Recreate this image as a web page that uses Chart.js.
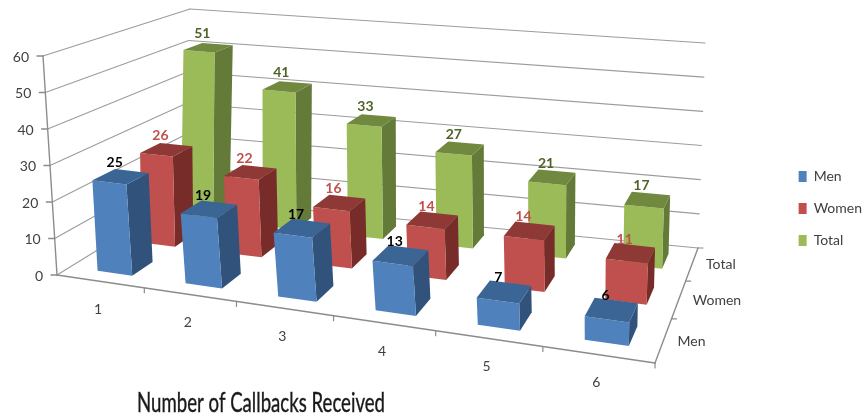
<!DOCTYPE html>
<html>
<head>
<meta charset="utf-8">
<script src="https://cdn.jsdelivr.net/npm/chart.js@4"></script>
<style>
  html, body { margin: 0; background: #fff; }
  #wrap { width: 863px; height: 419px; }
</style>
</head>
<body>
<div id="wrap"><canvas id="callbacks" width="863" height="419"></canvas></div>
<script>
const categories = ['1', '2', '3', '4', '5', '6'];
const seriesNames = ['Men', 'Women', 'Total'];
const men = [25, 19, 17, 13, 7, 6];
const women = [26, 22, 16, 14, 14, 11];
const total = [51, 41, 33, 27, 21, 17];
const yTicks = [0, 10, 20, 30, 40, 50, 60];
const xTitle = 'Number of Callbacks Received';

// camera: where the corners of the plot box land on the canvas
const FLOOR = [[57, 275], [655, 363], [698, 248], [182, 198]];
const CEILING = [[43, 56], [662, 123], [705, 43], [190, 9]];
const U_WARP = 0.14; // the original spaces categories more evenly than true perspective
const BAR_W = 0.4 / categories.length;
const BAR_D = 0.46 / seriesNames.length;
const BAR_SHIFT = 0.004;

const FONT = 'Lato, "Open Sans", sans-serif';
const GRID = '#9c9c9c';
const AXIS = '#8c8c8c';
const TEXT = '#404040';

function makeHomography(q) {
    const [[x0, y0], [x1, y1], [x2, y2], [x3, y3]] = q;
    const dx1 = x1 - x2, dx2 = x3 - x2, sx = x0 - x1 + x2 - x3;
    const dy1 = y1 - y2, dy2 = y3 - y2, sy = y0 - y1 + y2 - y3;
    const den = dx1 * dy2 - dx2 * dy1;
    const g = (sx * dy2 - dx2 * sy) / den;
    const h = (dx1 * sy - sx * dy1) / den;
    const a = x1 - x0 + g * x1, b = x3 - x0 + h * x3;
    const d = y1 - y0 + g * y1, e = y3 - y0 + h * y3;
    return (u, v) => {
        const w = g * u + h * v + 1;
        return [(a * u + b * v + x0) / w, (d * u + e * v + y0) / w];
    };
}
const floorAt = makeHomography(FLOOR);
const ceilingAt = makeHomography(CEILING);

// u along the categories, v into the depth, t up the value axis, all 0..1
function project(u, v, t) {
    const uu = u + U_WARP * u * (1 - u);
    const f = floorAt(uu, v), c = ceilingAt(uu, v);
    return [f[0] + (c[0] - f[0]) * t, f[1] + (c[1] - f[1]) * t];
}

function fracX(scale, value) {
    return (scale.getPixelForValue(value) - scale.left) / scale.width;
}
function fracY(scale, value) {
    return (scale.bottom - scale.getPixelForValue(value)) / scale.height;
}

function face(ctx, pts, color) {
    ctx.beginPath();
    pts.forEach((p, i) => i ? ctx.lineTo(p[0], p[1]) : ctx.moveTo(p[0], p[1]));
    ctx.closePath();
    ctx.fillStyle = color;
    ctx.fill();
}

function line(ctx, a, b, color, width) {
    ctx.beginPath();
    ctx.moveTo(a[0], a[1]);
    ctx.lineTo(b[0], b[1]);
    ctx.strokeStyle = color;
    ctx.lineWidth = width;
    ctx.stroke();
}

// bar controller that draws each bar as a box in the projected plot
class Bar3dController extends Chart.BarController {
    draw() {
        const ctx = this.chart.ctx;
        const meta = this._cachedMeta;
        const ds = this.getDataset();
        const zScale = this.chart.scales.z;
        const v = fracX(zScale, meta.index);
        const n = meta.data.length;
        for (let i = 0; i < n; i++) {
            const u = fracX(meta.iScale, i) + BAR_SHIFT;
            const t = fracY(meta.vScale, this.getParsed(i).y);
            const u0 = u - BAR_W / 2, u1 = u + BAR_W / 2;
            const v0 = v - BAR_D / 2, v1 = v + BAR_D / 2;
            const fl = project(u0, v0, 0), fr = project(u1, v0, 0), br = project(u1, v1, 0);
            const tl = project(u0, v0, t), tr = project(u1, v0, t), tbr = project(u1, v1, t), tbl = project(u0, v1, t);
            face(ctx, [fr, br, tbr, tr], ds.sideColor);
            face(ctx, [fl, fr, tr, tl], ds.backgroundColor);
            face(ctx, [tl, tr, tbr, tbl], ds.topColor);
        }
    }
}
Bar3dController.id = 'bar3d';
Bar3dController.defaults = Chart.BarController.defaults;
Bar3dController.overrides = Chart.BarController.overrides;
Chart.register(Bar3dController);

const boxPlugin = {
    id: 'box3d',
    afterLayout(chart) {
        // legend sits tight against the right edge in the original
        chart.legend.left += 9;
        chart.legend.right += 9;
        chart.legend.top -= 1;
        chart.legend.bottom -= 1;
    },
    beforeDatasetsDraw(chart) {
        const { ctx, scales } = chart;
        ctx.save();
        ctx.lineCap = 'round';
        yTicks.forEach(val => {
            const t = fracY(scales.y, val);
            line(ctx, project(0, 0, t), project(0, 1, t), GRID, 1.1);
            line(ctx, project(0, 1, t), project(1, 1, t), GRID, 1.1);
            const p = project(0, 0, t);
            line(ctx, p, [p[0] - 6, p[1]], AXIS, 1.4);
            ctx.font = '14px ' + FONT;
            ctx.fillStyle = TEXT;
            ctx.textAlign = 'right';
            ctx.textBaseline = 'middle';
            ctx.fillText(String(val), p[0] - 14, p[1] + 1);
        });
        line(ctx, project(0, 0, 0), project(0, 0, 1), AXIS, 1.4);
        line(ctx, project(0, 0, 0), project(1, 0, 0), AXIS, 1.6);
        line(ctx, project(1, 0, 0), project(1, 1, 0), AXIS, 1.4);

        // tick marks and labels along the floor edges
        ctx.font = '14px ' + FONT;
        ctx.fillStyle = TEXT;
        ctx.textAlign = 'center';
        categories.forEach((c, i) => {
            const mid = project(fracX(scales.x, i), 0, 0);
            ctx.fillText(c, mid[0] - 2, mid[1] + 28);
            const edge = project((i + 1) / categories.length, 0, 0);
            line(ctx, edge, [edge[0], edge[1] + 5], AXIS, 1.2);
        });
        ctx.textAlign = 'left';
        seriesNames.forEach((s, i) => {
            const mid = project(1, fracX(scales.z, i), 0);
            ctx.fillText(s, mid[0] + 14, mid[1] + 1);
            const edge = project(1, (i + 1) / seriesNames.length, 0);
            line(ctx, edge, [edge[0] + 5, edge[1]], AXIS, 1.2);
        });
        ctx.restore();
    },
    afterDatasetsDraw(chart) {
        const { ctx, scales } = chart;
        ctx.save();
        ctx.font = 'bold 14px ' + FONT;
        ctx.textAlign = 'center';
        ctx.textBaseline = 'middle';
        chart.data.datasets.forEach((ds, k) => {
            const v = fracX(scales.z, k);
            ds.data.forEach((val, i) => {
                const p = project(fracX(scales.x, i) + BAR_SHIFT, v, fracY(scales.y, val));
                ctx.fillStyle = ds.labelColor;
                ctx.fillText(String(val), p[0] - 6, p[1] - 14);
            });
        });
        // axis title, squeezed to the narrow look of the original
        ctx.font = '27px ' + FONT;
        ctx.fillStyle = '#1a1a1a';
        ctx.strokeStyle = '#1a1a1a';
        ctx.lineWidth = 0.4;
        ctx.textAlign = 'left';
        ctx.fillText(xTitle, 137, 403, 248);
        ctx.strokeText(xTitle, 137, 403, 248);
        ctx.restore();
    }
};

new Chart(document.getElementById('callbacks'), {
    type: 'bar3d',
    data: {
        labels: categories,
        datasets: [
            { label: seriesNames[0], data: men, backgroundColor: '#4f81bd', sideColor: '#31527a', topColor: '#3b6595', labelColor: '#000000' },
            { label: seriesNames[1], data: women, backgroundColor: '#c0504d', sideColor: '#772c2a', topColor: '#8f3936', labelColor: '#c0504d' },
            { label: seriesNames[2], data: total, backgroundColor: '#9bbb59', sideColor: '#637a38', topColor: '#71893f', labelColor: '#4f6228' }
        ]
    },
    options: {
        responsive: false,
        animation: false,
        plugins: {
            tooltip: { enabled: false },
            legend: {
                position: 'right',
                labels: {
                    boxWidth: 8,
                    boxHeight: 11,
                    padding: 18,
                    color: TEXT,
                    font: { family: FONT, size: 14 }
                }
            }
        },
        scales: {
            x: { type: 'category', display: false },
            y: { type: 'linear', display: false, min: 0, max: 60 },
            z: { type: 'category', axis: 'x', display: false, labels: seriesNames }
        }
    },
    plugins: [boxPlugin]
});
</script>
</body>
</html>
